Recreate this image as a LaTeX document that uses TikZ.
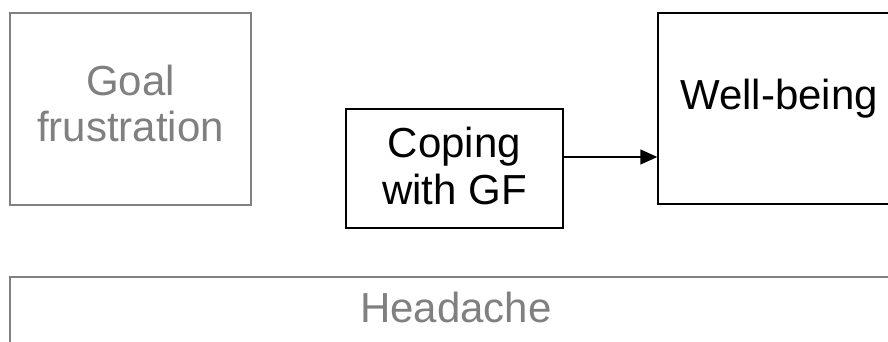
\documentclass[tikz,border=0pt]{standalone}
\usepackage{fontspec}
\setmainfont{Liberation Sans}
\usetikzlibrary{arrows.meta}
\definecolor{fadegray}{HTML}{808080}
\begin{document}
\begin{tikzpicture}[x=1pt,y=-1pt,
  boxbase/.style={draw,line width=1.4pt,inner sep=0pt},
  blackbox/.style={boxbase,draw=black},
  graybox/.style={boxbase,draw=fadegray},
  txt/.style={inner sep=0pt,align=center,anchor=base,font=\fontsize{42}{47}\selectfont},
  arr/.style={line width=1.4pt,-{Triangle[length=17pt,width=15pt]}}]
\useasboundingbox (0,0) rectangle (888,342);
\clip (0,0) rectangle (888,342);
\fill[white] (0,0) rectangle (888,342);
\node[graybox,minimum width=241pt,minimum height=192pt] (goal) at (130.5,109) {};
\node[txt,text=fadegray] (goaltext) at (130.5,142) {Goal\\frustration};
\node[blackbox,minimum width=217pt,minimum height=119pt] (coping) at (454.5,168.5) {};
\node[txt] (copingtext) at (454.5,204) {Coping\\with GF};
\node[blackbox,minimum width=242pt,minimum height=191pt] (wb) at (779,108.5) {};
\node[txt] (wbtext) at (779,110) {Well-being};
\node[graybox,minimum width=890pt,minimum height=100pt] (head) at (455,327) {};
\node[txt,text=fadegray] (headtext) at (456,322) {Headache};
\draw[arr] ([yshift=11.5pt]coping.east) -- ([yshift=11.5pt]coping.east -| wb.west);
\end{tikzpicture}
\end{document}
